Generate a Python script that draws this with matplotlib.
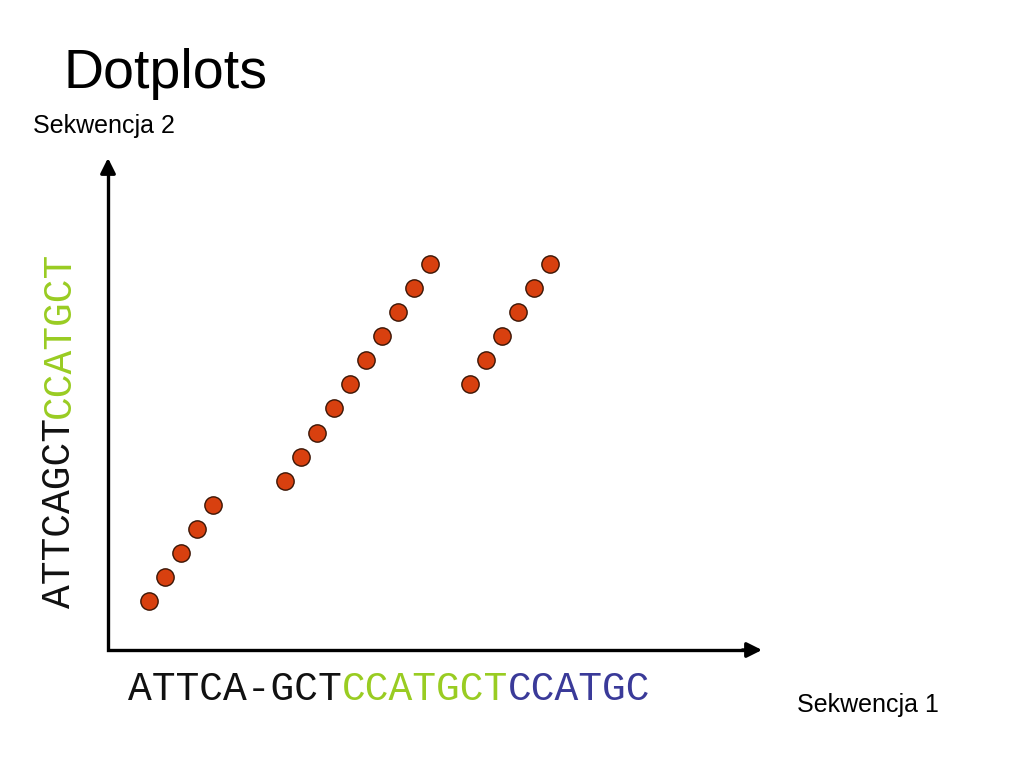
import matplotlib
matplotlib.use("Agg")
import matplotlib.pyplot as plt

# ---- data ----
title = "Dotplots"
ylabel = "Sekwencja 2"
xlabel = "Sekwencja 1"
seq1_parts = ["ATTCA-GCT", "CCATGCT", "CCATGC"]
seq1_colors = ["#111111", "#99CC22", "#3A3A99"]
seq2_parts = ["ATTCAGCT", "CCATGCT"]
seq2_colors = ["#111111", "#99CC22"]

# dot positions (in dot-step units)
g1_x = [0, 1, 2, 3, 4]
g1_y = [0, 1, 2, 3, 4]
g2_x = [8.5, 9.5, 10.5, 11.5, 12.5, 13.5, 14.5, 15.5, 16.5, 17.5]
g2_y = [5, 6, 7, 8, 9, 10, 11, 12, 13, 14]
g3_x = [20, 21, 22, 23, 24, 25]
g3_y = [9, 10, 11, 12, 13, 14]

W, H = 1024, 768
fig = plt.figure(figsize=(W / 100, H / 100), dpi=100)
fig.patch.set_facecolor("white")

def fx(px):
    return px / W

def fy(py):
    return (H - py) / H

# axes: x-axis from px 108 to 762 at y=650, y-axis up to y=158
ax = fig.add_axes([fx(108), fy(650), (762 - 108) / W, (650 - 158) / H])
ax.set_xlim(-2.55, 38.19)
ax.set_ylim(-2.02, 18.39)
for s in ax.spines.values():
    s.set_visible(False)
ax.set_xticks([])
ax.set_yticks([])
ax.patch.set_alpha(0)

dot_kw = dict(s=155, c="#D8400F", edgecolors="#3A1505", linewidths=1.0, zorder=3)
ax.scatter(g1_x, g1_y, **dot_kw)
ax.scatter(g2_x, g2_y, **dot_kw)
ax.scatter(g3_x, g3_y, **dot_kw)

# axis lines (L shape) + arrowheads
ax.plot([0, 0, 0.985], [0.985, 0, 0], transform=ax.transAxes, color="black",
        lw=2.4, solid_joinstyle="miter", solid_capstyle="butt", clip_on=False)
arrow_kw = dict(arrowstyle="-|>,head_length=0.9,head_width=0.45",
                lw=2.4, color="black", shrinkA=0, shrinkB=0, mutation_scale=10)
ax.annotate("", xy=(1, 0), xytext=(0.97, 0), xycoords="axes fraction",
            arrowprops=arrow_kw, annotation_clip=False)
ax.annotate("", xy=(0, 1), xytext=(0, 0.97), xycoords="axes fraction",
            arrowprops=arrow_kw, annotation_clip=False)

# titles / labels
fig.text(fx(63), fy(88), title, fontsize=40, family="Liberation Sans",
         ha="left", va="baseline")
fig.text(fx(33), fy(133), ylabel, fontsize=18, family="Liberation Sans",
         ha="left", va="baseline")
fig.text(fx(797), fy(712), xlabel, fontsize=18, family="Liberation Sans",
         ha="left", va="baseline")

# sequences (monospace, coloured segments)
fs = 28.5
adv = 0.6 * fs / 72 * 100  # advance per char in px
k = 0
for part, col in zip(seq1_parts, seq1_colors):
    fig.text(fx(128 + k * adv), fy(700), part, fontsize=fs,
             family="Liberation Mono", color=col, ha="left", va="baseline")
    k += len(part)
k = 0
for part, col in zip(seq2_parts, seq2_colors):
    fig.text(fx(70), fy(608 - k * adv), part, fontsize=fs,
             family="Liberation Mono", color=col, ha="left", va="baseline",
             rotation=90, rotation_mode="anchor")
    k += len(part)

fig.savefig("out.png", dpi=100, facecolor="white")
